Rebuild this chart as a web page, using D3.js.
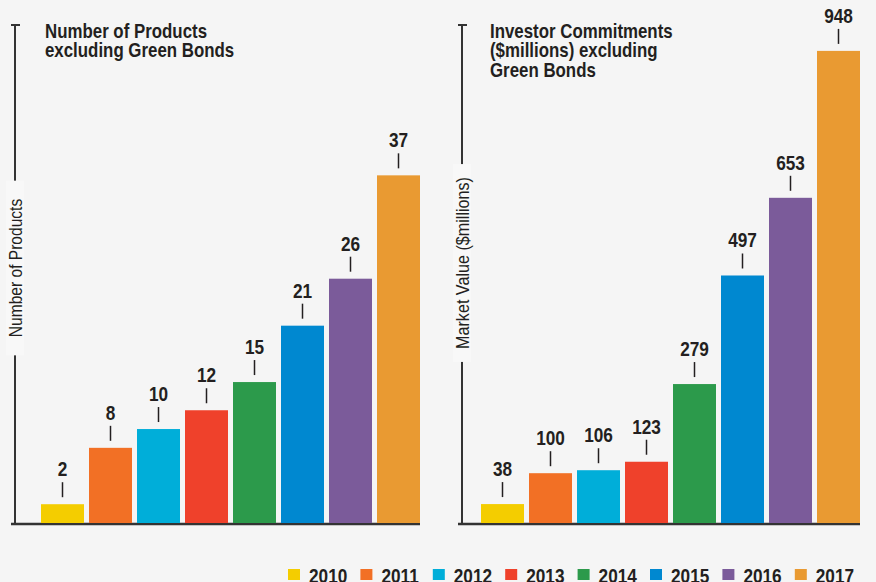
<!DOCTYPE html>
<html>
<head>
<meta charset="utf-8">
<title>Products and Investor Commitments</title>
<script src="https://d3js.org/d3.v7.min.js"></script>
<style>
  body { margin: 0; background: #f5f5f5; }
  svg { display: block; }
  svg text { font-family: "Liberation Sans", Arial, sans-serif; fill: #231f20; }
  .title { font-size: 19.5px; font-weight: bold; }
  .val { font-size: 21px; font-weight: bold; }
  .ylab { font-size: 19px; }
  .leg { font-size: 21px; font-weight: bold; }
</style>
</head>
<body>
<svg width="876" height="582"></svg>
<script>
// data
var years = ["2010", "2011", "2012", "2013", "2014", "2015", "2016", "2017"];
var products = [2, 8, 10, 12, 15, 21, 26, 37];
var commitments = [38, 100, 106, 123, 279, 497, 653, 948];
var colors = ["#f4cd00", "#f27025", "#00aed9", "#ef412b", "#2c9a4b", "#0088d0", "#7b5b9a", "#e99a32"];

// condensed look: squeeze the glyphs horizontally
var NARROW = "scale(0.82,1)";
var TITLE_NARROW = "scale(0.865,1)";

var svg = d3.select("svg");
svg.append("rect").attr("width", 876).attr("height", 582).attr("fill", "#f5f5f5");

var color = d3.scaleOrdinal().domain(years).range(colors);

var baseY = 523, topY = 25;

function panel(opts) {
  var g = svg.append("g");

  var x = d3.scaleBand()
      .domain(years)
      .range([opts.x0, opts.x1])
      .paddingInner(5 / 48)
      .paddingOuter(0);

  var y = d3.scaleLinear()
      .domain([0, opts.max])
      .range([baseY, topY]);

  // y axis line + top tick
  g.append("line")
      .attr("x1", opts.ax).attr("x2", opts.ax)
      .attr("y1", topY).attr("y2", baseY)
      .attr("stroke", "#333").attr("stroke-width", 2);
  g.append("line")
      .attr("x1", opts.ax - 4).attr("x2", opts.ax + 5)
      .attr("y1", topY).attr("y2", topY)
      .attr("stroke", "#333").attr("stroke-width", 2);

  // axis label with a gap behind it
  var gap = g.append("rect").attr("fill", "#f8f8f8");
  var lab = g.append("text")
      .attr("class", "ylab")
      .attr("transform", "translate(" + (opts.ax + 7) + "," + opts.labY + ") rotate(-90) " + opts.labScale)
      .attr("text-anchor", "middle")
      .text(opts.ylabel);
  var len = lab.node().getBBox().width * 0.82;
  gap.attr("x", opts.ax - 9)
      .attr("y", opts.labY - len / 2 - opts.gapPad)
      .attr("width", 18)
      .attr("height", len + 2 * opts.gapPad);

  // baseline
  g.append("line")
      .attr("x1", opts.ax - 4).attr("x2", opts.x1)
      .attr("y1", baseY + 1).attr("y2", baseY + 1)
      .attr("stroke", "#333").attr("stroke-width", 2.5);

  // title
  var t = g.append("text").attr("class", "title")
      .attr("transform", "translate(" + opts.tx + ",0) " + TITLE_NARROW);
  opts.title.forEach(function(s, i) {
    t.append("tspan").attr("x", 0).attr("y", 38 + i * 19.5).text(s);
  });

  var bars = g.selectAll(".bar")
    .data(years.map(function(d, i) { return { year: d, v: opts.values[i] }; }))
    .enter().append("g");

  bars.append("rect")
      .attr("x", function(d) { return x(d.year); })
      .attr("y", function(d) { return y(d.v); })
      .attr("width", x.bandwidth())
      .attr("height", function(d) { return baseY - y(d.v); })
      .attr("fill", function(d) { return color(d.year); });

  bars.append("line")
      .attr("x1", function(d) { return x(d.year) + x.bandwidth() / 2; })
      .attr("x2", function(d) { return x(d.year) + x.bandwidth() / 2; })
      .attr("y1", function(d) { return y(d.v) - 22; })
      .attr("y2", function(d) { return y(d.v) - 7; })
      .attr("stroke", "#231f20").attr("stroke-width", 1.5);

  bars.append("text")
      .attr("class", "val")
      .attr("transform", function(d) {
        return "translate(" + (x(d.year) + x.bandwidth() / 2) + "," + (y(d.v) - 28) + ") " + NARROW;
      })
      .attr("text-anchor", "middle")
      .text(function(d) { return d.v; });
}

panel({
  ax: 15, x0: 41, x1: 420, max: 53, values: products,
  title: ["Number of Products", "excluding Green Bonds"], tx: 45,
  ylabel: "Number of Products", labY: 268, gapPad: 18, labScale: NARROW
});

panel({
  ax: 462, x0: 481, x1: 860, max: 1000, values: commitments,
  title: ["Investor Commitments", "($millions) excluding", "Green Bonds"], tx: 490,
  ylabel: "Market Value ($millions)", labY: 263, gapPad: 16, labScale: "scale(0.85,1)"
});

// legend
var legend = svg.append("g")
  .selectAll("g")
  .data(years)
  .enter().append("g")
    .attr("transform", function(d, i) { return "translate(" + (288 + i * 72.4) + ",569)"; });

legend.append("rect")
    .attr("width", 12).attr("height", 11)
    .attr("fill", function(d) { return color(d); });

legend.append("text")
    .attr("class", "leg")
    .attr("transform", "translate(21,14) " + NARROW)
    .text(function(d) { return d; });
</script>
</body>
</html>
